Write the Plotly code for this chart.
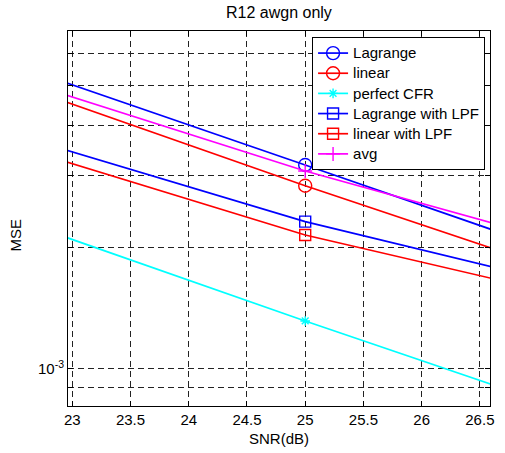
import plotly.graph_objects as go

# SNR points (dB) and MSE per estimator
snr_db = [20, 25, 30]
mse_lagrange = [9.974e-3, 3.190e-3, 1.0135e-3]
mse_linear = [9.030e-3, 2.835e-3, 9.338e-4]
mse_perfect = [4.183e-3, 1.314e-3, 4.25e-4]
mse_lagrange_lpf = [6.223e-3, 2.311e-3, 1.0393e-3]
mse_linear_lpf = [5.907e-3, 2.142e-3, 9.917e-4]
mse_avg = [8.815e-3, 3.083e-3, 1.2295e-3]

x_ticks = [23, 23.5, 24, 24.5, 25, 25.5, 26, 26.5]
y_major_ticks = [1e-3]
y_major_text = ["10<sup>-3</sup>"]
y_minor_ticks = [9e-4, 2e-3, 3e-3, 4e-3, 5e-3, 6e-3]

FONT = "Liberation Sans, Arial, Helvetica, sans-serif"

series = [
    ("Lagrange", mse_lagrange, "#0000ff", "circle-open", 13),
    ("linear", mse_linear, "#ff0000", "circle-open", 13),
    ("perfect CFR", mse_perfect, "#00ffff", "asterisk-open", 8),
    ("Lagrange with LPF", mse_lagrange_lpf, "#0000ff", "square-open", 11),
    ("linear with LPF", mse_linear_lpf, "#ff0000", "square-open", 11),
    ("avg", mse_avg, "#ff00ff", "cross-thin-open", 10),
]

fig = go.Figure()
for name, vals, color, symbol, size in series:
    fig.add_trace(go.Scatter(
        x=snr_db, y=vals, mode="lines+markers",
        name=f'<span style="font-size:15px">{name}</span>',
        line=dict(color=color, width=1.7),
        marker=dict(symbol=symbol, size=size, color=color,
                    line=dict(color=color, width=1.4)),
    ))

grid_style = dict(showgrid=True, gridcolor="#222222", gridwidth=1,
                  griddash="6px,4px")

axis_common = dict(
    showline=True, linecolor="black", linewidth=1, mirror="ticks",
    ticks="inside", ticklen=5, tickcolor="black", tickwidth=1,
    zeroline=False,
    tickfont=dict(family=FONT, size=15, color="black"),
    **grid_style,
)

fig.update_xaxes(range=[22.963, 26.587], tickvals=x_ticks,
                 ticktext=[f"{v:g}" for v in x_ticks], **axis_common)
fig.update_yaxes(
    type="log", range=[-3.0914, -2.1654],
    tickvals=y_major_ticks, ticktext=y_major_text,
    minor=dict(tickvals=y_minor_ticks, ticks="inside", ticklen=5,
               tickcolor="black", tickwidth=1, **grid_style),
    **axis_common,
)

fig.update_layout(
    width=505, height=453,
    margin=dict(l=68, r=11, t=31, b=47),
    paper_bgcolor="white", plot_bgcolor="white",
    font=dict(family=FONT, size=15, color="black"),
    showlegend=True,
    legend=dict(
        x=0.9883, y=0.984, xanchor="right", yanchor="top",
        bgcolor="white", bordercolor="black", borderwidth=1,
        font=dict(family=FONT, size=13.2, color="black"),
        tracegroupgap=0, itemwidth=30,
    ),
    annotations=[
        dict(text="R12 awgn only", xref="paper", yref="paper",
             x=0.5, y=1 + 19 / 375, xanchor="center", yanchor="middle",
             showarrow=False, font=dict(family=FONT, size=16)),
        dict(text="SNR(dB)", xref="paper", yref="paper",
             x=0.5, y=-32 / 375, xanchor="center", yanchor="middle",
             showarrow=False, font=dict(family=FONT, size=15)),
        dict(text="MSE", xref="paper", yref="paper",
             x=-54 / 426, y=(406 - 235) / 375, xanchor="center",
             yanchor="middle", textangle=-90,
             showarrow=False, font=dict(family=FONT, size=15)),
    ],
)

fig.write_html("out.html")
